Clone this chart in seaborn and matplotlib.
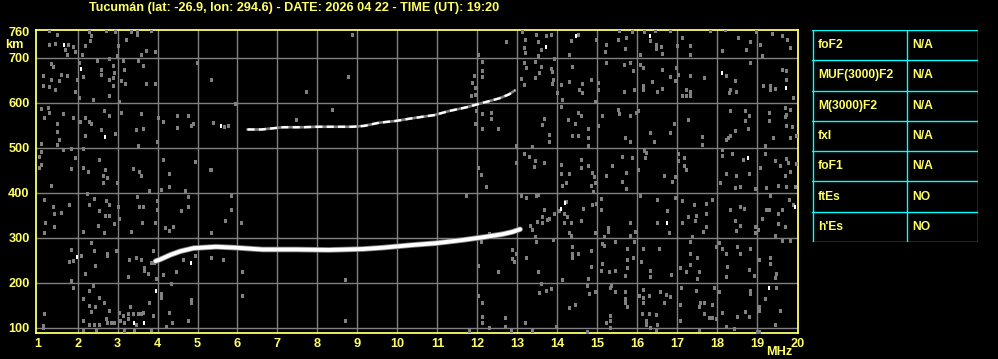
import matplotlib
matplotlib.use("Agg")
import matplotlib.pyplot as plt
import seaborn as sns
import pandas as pd

# ---------------- data ----------------
title = "Tucumán (lat: -26.9, lon: 294.6) - DATE: 2026 04 22 - TIME (UT): 19:20"
freq_ticks = list(range(1, 21))
height_ticks = [100, 200, 300, 400, 500, 600, 700, 760]
freq_grid = list(range(2, 20))
height_grid = [100, 200, 300, 400, 500, 600, 700]

lower_f = [3.95, 4.07, 4.32, 4.57, 4.9, 5.46, 5.96, 6.625, 7.46, 8.29, 9.125, 9.625,
           10.375, 10.96, 11.625, 12.2, 12.625, 12.875, 13.07]
lower_h = [248, 252, 262, 270, 277, 280, 278, 274, 274, 273, 275, 278,
           284, 288, 295, 302, 308, 313, 319]

upper_f = [6.25, 6.6, 7.14, 7.625, 8.0, 8.54, 8.875, 9.17, 9.54, 9.96, 10.375, 10.92,
           11.29, 11.71, 12.0, 12.25, 12.54, 12.79, 12.94]
upper_h = [541, 541, 546, 546, 547, 547, 547, 549, 556, 560, 566, 573,
           582, 590, 597, 603, 610, 619, 628]

noise_f = [
    # 1-5.5 MHz, upper
    1.275, 1.475, 1.29, 1.43, 1.75, 1.875, 1.68, 1.73, 1.93, 2.29, 2.33, 2.32, 2.18, 2.12, 2.72, 2.93,
    3.33, 3.48, 3.48, 3.83, 3.22, 3.02, 2.98, 3.58, 3.72, 3.93,
    1.33, 1.375, 1.125, 1.33, 1.125, 1.275, 1.43, 1.525, 1.58, 1.73, 2.025, 2.125, 1.975, 1.93, 2.025,
    2.375, 2.48, 2.58, 2.58, 2.775, 2.875, 2.9, 2.875, 2.775, 2.875, 2.775, 3.03, 3.125, 3.17, 3.08,
    3.19, 3.52, 3.625, 3.72, 3.93, 4.975, 5.325,
    1.075, 1.25, 1.29, 1.17, 1.625, 1.475, 1.475, 1.525, 1.48, 1.08, 1.875, 2.07, 2.19, 2.29, 2.33,
    2.19, 2.58, 2.67, 2.775, 2.94, 3.08, 3.46, 3.625, 3.58, 4.02, 4.125, 4.475, 4.77, 4.875, 4.83,
    4.475, 5.375, 3.975, 3.52, 5.67, 5.775,
    1.08, 1.04, 1.08, 1.04, 1.625, 1.83, 2.125, 1.93, 1.83, 2.125, 2.25, 2.54, 2.68, 2.625, 2.73,
    3.375, 3.54, 3.58, 4.125, 4.29, 4.94, 5.32,
    # 1-5.5 MHz, lower
    1.33, 2.625, 2.98, 4.08, 4.29, 4.68, 2.225, 1.17, 1.375, 1.775, 1.58, 1.42, 2.42, 2.29, 2.71,
    2.79, 2.54, 2.69, 2.79, 3.0, 3.04, 2.92, 2.5, 2.65, 2.125, 1.19, 1.17, 1.42, 3.33, 3.48, 3.54,
    3.625, 3.79, 3.98, 3.98, 3.94, 3.6, 4.19, 4.29, 4.375, 4.75, 4.75, 4.58, 5.33,
    1.83, 1.875, 1.79, 2.08, 2.33, 2.4, 2.44, 2.19, 2.73, 2.73, 2.96, 3.28, 3.46, 3.58, 3.67, 3.65,
    3.75, 3.875, 3.92, 3.83, 4.125, 3.96, 3.25, 4.625, 4.94, 5.33, 4.45,
    1.83, 1.875, 2.375, 2.29, 2.125, 2.54, 2.67, 2.29, 2.33, 2.44, 2.79, 2.71, 2.83, 3.04, 3.125,
    3.25, 3.31, 3.375, 3.5, 3.58, 3.79, 3.875, 4.08, 4.08, 4.33, 4.83, 4.83, 4.29, 4.35, 4.21, 4.75,
    1.17, 1.125, 1.125, 2.125, 2.275, 2.42, 2.54, 2.73, 2.92, 3.06, 3.17, 3.25, 3.46, 3.625, 3.17,
    3.42, 3.83, 2.125, 2.46,
    # 5-14 MHz
    8.875, 12.725, 12.025, 12.125, 12.125, 11.92, 12.125, 11.875, 11.94, 11.83, 11.94, 8.775, 7.725,
    5.33, 5.94, 8.375, 7.475, 11.96, 12.125, 12.33, 12.33, 11.94, 12.125, 12.525, 5.33, 12.025, 12.08,
    13.125, 13.475, 13.725, 13.83, 13.19, 13.52, 13.17, 13.58, 13.19, 13.52, 13.92, 13.17, 13.44,
    13.225, 13.58, 13.83, 13.875, 13.89, 13.54, 13.44, 13.1, 13.17, 14.0, 13.875, 13.67, 13.625,
    13.79, 13.79, 13.375, 12.975, 13.17, 13.29, 13.44, 13.67, 13.42, 12.975,
    5.83, 5.83, 5.69, 6.08, 5.33, 5.33, 5.625, 6.125, 6.125, 8.68, 8.68, 11.72, 12.225, 13.08, 13.225,
    13.475, 13.52, 13.67, 13.625, 13.75, 13.79, 13.92, 13.625, 13.375, 13.44, 13.46, 13.89, 12.875,
    12.875, 12.96, 12.92, 13.225, 12.025, 12.525, 13.52, 13.58, 13.54, 13.71, 13.83, 12.025, 12.125,
    12.125, 12.125, 12.29, 12.69, 12.69, 12.83, 13.19, 13.375, 13.96, 11.78, 12.1, 12.29,
    13.32, 13.5, 14.2,
    # 14-20 MHz, upper
    14.33, 14.525, 14.29, 14.975, 15.225, 15.19, 15.525, 15.54, 15.725, 15.69, 15.875, 16.08, 16.17,
    16.33, 16.46, 16.6, 16.46, 16.625, 16.44, 16.83, 17.0, 17.125, 17.33, 17.33, 17.83, 18.125, 18.19,
    18.525, 18.725, 18.83, 18.98, 19.06, 19.125, 19.375, 19.625, 19.75, 19.83,
    14.375, 14.29, 14.08, 14.125, 14.625, 14.83, 14.54, 14.625, 15.025, 15.025, 14.94, 15.225, 15.67,
    15.83, 15.9, 15.67, 15.93, 16.08, 16.14, 16.375, 16.14, 16.14, 16.5, 16.625, 16.625, 16.83, 16.94,
    16.975, 17.03, 17.11, 17.23, 17.33, 17.23, 17.33, 17.33, 17.67, 18.225, 18.45, 18.33, 18.46, 18.29,
    18.83, 19.14, 19.33, 19.33, 19.44, 19.625, 19.725, 19.725, 19.9,
    14.08, 14.275, 14.525, 14.58, 14.44, 14.775, 14.375, 14.525, 14.775, 14.775, 15.025, 15.125,
    15.525, 15.54, 15.83, 15.975, 16.03, 15.69, 15.83, 16.33, 16.43, 16.83, 16.92, 17.275, 17.625,
    17.625, 18.33, 18.69, 18.79, 18.69, 18.775, 18.44, 18.33, 18.21, 18.27, 19.29, 19.29, 19.7, 19.7,
    19.725, 19.875, 19.725, 19.83, 19.4, 19.83, 19.97, 19.19,
    14.08, 14.08, 14.29, 14.58, 14.58, 14.775, 14.875, 14.92, 15.21, 15.375, 15.625, 15.725, 15.875,
    16.17, 16.21, 16.19, 16.025, 16.67, 17.025, 17.025, 17.17, 17.17, 17.23, 16.94, 18.125, 18.125,
    18.375, 18.64, 18.79, 19.06, 19.19, 19.44, 19.56, 19.71, 19.775, 19.83, 19.97, 19.69, 18.21, 18.46,
    # 14-20 MHz, lower
    14.21, 14.125, 14.83, 14.94, 14.89, 15.625, 15.71, 16.875, 18.08, 18.44, 18.58, 18.94, 19.225,
    19.52, 19.71, 19.94,
    14.225, 14.04, 14.17, 14.25, 14.33, 14.17, 14.29, 14.33, 14.58, 14.64, 14.875, 14.96, 14.94, 15.08,
    15.08, 15.275, 15.275, 15.17, 15.83, 15.83, 15.94, 16.08, 16.5, 16.75, 16.5, 16.79, 16.94, 17.125,
    17.125, 17.42, 17.275, 17.46, 17.44, 17.71, 17.71, 17.71, 17.65, 17.375, 17.875, 18.33, 18.58,
    18.67, 18.44, 18.58, 18.46, 18.94, 18.94, 19.03, 19.125, 19.225, 19.29, 19.33, 19.625, 19.52,
    19.52, 19.69, 19.44, 19.9, 19.79,
    14.375, 14.375, 14.525, 14.375, 14.83, 14.83, 14.125, 14.775, 15.125, 15.17, 15.44, 15.125, 15.08,
    15.29, 15.44, 15.74, 15.74, 15.74, 15.69, 15.9, 15.93, 16.1, 16.15, 16.33, 16.33, 16.54, 16.85,
    17.08, 17.23, 17.33, 17.33, 17.5, 17.54, 17.5, 17.33, 17.96, 18.04, 18.125, 18.23, 18.25, 18.23,
    18.5, 18.58, 18.79, 18.83, 18.93, 19.04, 19.33, 19.33, 19.48, 19.44, 19.625, 19.83,
    14.29, 14.45, 14.74, 14.79, 14.94, 15.33, 15.44, 15.35, 15.69, 15.69, 15.74, 15.69, 15.33, 15.33,
    15.21, 15.33, 16.04, 16.15, 16.15, 16.15, 16.29, 16.125, 16.29, 16.225, 16.225, 16.31, 16.46, 16.5,
    16.475, 16.58, 16.71, 16.83, 16.67, 17.1, 17.08, 17.08, 17.475, 17.58, 17.67, 17.54, 17.875, 17.92,
    18.04, 17.79, 17.875, 17.96, 17.67, 17.54, 18.125, 18.5, 18.69, 18.83, 18.83, 18.79, 19.04, 19.04,
    19.19, 19.48, 19.58, 19.44, 19.0, 19.05, 18.23, 18.42, 14.74,
]
noise_h = [
    760, 752, 730, 732, 728, 725, 717, 707, 713, 757, 748, 737, 726, 707, 761, 757,
    757, 760, 752, 761, 740, 726, 704, 707, 715, 713,
    687, 680, 659, 652, 637, 635, 629, 648, 663, 661, 689, 657, 652, 625, 610,
    607, 693, 674, 663, 698, 683, 666, 655, 650, 638, 616, 603, 693, 674, 648,
    643, 693, 683, 643, 643, 689, 652,
    587, 588, 578, 567, 575, 553, 536, 517, 506, 508, 566, 558, 566, 558, 554,
    526, 540, 581, 571, 531, 578, 540, 542, 575, 566, 557, 571, 571, 554, 548,
    544, 556, 513, 504, 547, 549,
    491, 480, 461, 456, 496, 497, 497, 478, 454, 456, 446, 472, 450, 437, 433,
    454, 446, 437, 472, 443, 469, 450,
    416, 422, 422, 407, 413, 404, 398, 383, 368, 373, 355, 353, 387, 372, 381,
    372, 359, 349, 349, 368, 342, 331, 327, 310, 314, 332, 310, 323, 312, 390, 368,
    368, 404, 381, 361, 332, 334, 321, 316, 323, 390, 368, 359, 310,
    273, 249, 247, 260, 288, 271, 238, 219, 264, 260, 270, 251, 256, 250, 232, 226,
    219, 271, 245, 245, 217, 208, 212, 250, 260, 256, 225,
    205, 189, 193, 182, 163, 165, 156, 148, 136, 145, 137, 119, 111, 133, 126,
    130, 146, 130, 130, 130, 156, 126, 176, 165, 197, 161, 154, 133, 111, 101, 115,
    130, 104, 100, 96, 106, 106, 107, 111, 111, 115, 111, 119, 107, 133, 92,
    96, 96, 115, 96,
    752, 735, 707, 692, 670, 660, 657, 644, 633, 616, 618, 657, 625,
    652, 598, 584, 562, 581, 576, 578, 564, 553, 541, 541, 450, 456, 439,
    757, 752, 748, 752, 740, 735, 722, 717, 711, 704, 698, 689, 690,
    678, 680, 675, 668, 651, 666, 655, 653, 640, 622, 643, 564, 551,
    528, 513, 502, 504, 487, 480, 470, 466, 457, 466,
    394, 362, 337, 334, 310, 256, 251, 225, 171, 206, 115, 392, 413, 394, 389,
    394, 396, 361, 347, 340, 342, 353, 332, 317, 301, 290, 295, 273,
    253, 265, 247, 256, 238, 225, 223, 197, 178, 182, 186, 171, 154,
    124, 111, 100, 121, 101, 92, 111, 92, 101, 92, 290, 308,
    326, 336, 380,
    737, 752, 707, 741, 730, 713, 741, 761, 744, 719, 757, 707, 757,
    737, 730, 725, 719, 710, 760, 761, 726, 745, 726, 707, 760, 715, 762,
    745, 717, 735, 757, 730, 705, 754, 748, 741, 722,
    681, 646, 640, 607, 643, 651, 629, 623, 644, 629, 603, 689, 685,
    689, 670, 625, 629, 685, 677, 646, 638, 629, 625, 631, 674, 657, 648,
    677, 663, 616, 629, 625, 616, 616, 660, 655, 660, 648, 629, 625, 622,
    689, 638, 637, 628, 631, 674, 672, 651, 610,
    590, 562, 578, 571, 553, 543, 526, 526, 521, 504, 549, 571,
    584, 575, 571, 577, 581, 522, 513, 534, 513, 534, 553, 562, 525,
    506, 583, 581, 571, 559, 543, 538, 526, 517, 521, 578, 559, 588, 568,
    573, 547, 549, 584, 521, 521, 526, 504,
    461, 443, 441, 472, 456, 459, 444, 435, 437, 459, 480, 444, 478,
    493, 489, 478, 450, 437, 487, 471, 478, 459, 450, 435, 495, 482,
    486, 474, 443, 456, 487, 471, 459, 476, 466, 446, 464, 437, 443, 437,
    422, 416, 416, 422, 401, 424, 409, 424, 422, 411, 414, 409, 411,
    416, 413, 413,
    379, 359, 353, 346, 332, 332, 310, 305, 337, 364, 372, 375, 310, 387,
    361, 322, 314, 301, 334, 305, 314, 394, 384, 359, 332, 310, 389, 381,
    332, 374, 346, 349, 338, 375, 353, 323, 312, 301, 384, 361, 368,
    364, 338, 327, 316, 325, 310, 317, 342, 361, 361, 394, 362, 353,
    331, 323, 305, 372, 384,
    279, 265, 265, 255, 270, 234, 206, 208, 286, 282, 290, 241, 226,
    223, 226, 275, 250, 232, 215, 256, 290, 247, 275, 226, 212, 275, 218,
    232, 225, 290, 265, 256, 225, 208, 240, 279, 288, 275, 265, 234, 212,
    279, 265, 228, 275, 215, 250, 256, 241, 219, 210, 293, 292,
    143, 151, 193, 174, 180, 189, 180, 193, 180, 163, 146, 154, 126, 115,
    111, 100, 171, 183, 167, 156, 171, 131, 131, 115, 106, 100, 96, 106,
    128, 180, 173, 168, 156, 189, 151, 115, 182, 154, 154, 145, 151, 189,
    180, 121, 122, 119, 130, 94, 133, 124, 136, 182, 174, 124, 145, 138,
    163, 189, 138, 106, 90, 90, 101, 98, 90,
]

bright_f = [1.67, 2.08, 2.69, 1.985, 4.84, 3.96, 3.42, 3.67, 5.58, 13.725,
            14.475, 16.33, 18.125, 19.725, 18.775, 14.19, 14.08, 16.75, 19.94, 19.29]
bright_h = [730, 675, 525, 258, 244, 182, 111, 111, 549, 725,
            748, 748, 666, 634, 478, 377, 364, 332, 368, 189]

param_names = ["foF2", "MUF(3000)F2", "M(3000)F2", "fxI", "foF1", "ftEs", "h'Es"]
param_values = ["N/A", "N/A", "N/A", "N/A", "N/A", "NO", "NO"]

# ---------------- style ----------------
YEL = "#ffff66"
GRAY = "#808080"
CYAN = "#00ffff"
FONT = ["Liberation Sans", "DejaVu Sans"]
sns.set_theme(style="dark")
plt.rcParams['font.family'] = FONT
plt.rcParams['font.weight'] = 'bold'

W, H = 998, 359
fig = plt.figure(figsize=(W / 100, H / 100), dpi=100, facecolor="black")
ax = fig.add_axes([36 / W, 1 - 332.7 / H, (798 - 36) / W, (332.7 - 29.5) / H])
ax.set_facecolor("black")

# grid lines
for fv in freq_grid:
    ax.axvline(fv, color=GRAY, linewidth=1.0, zorder=1)
for hv in height_grid:
    ax.axhline(hv, color=GRAY, linewidth=1.0, zorder=1)

noise_df = pd.DataFrame({"f": noise_f, "h": noise_h})
bright_df = pd.DataFrame({"f": bright_f, "h": bright_h})
low_df = pd.DataFrame({"f": lower_f, "h": lower_h})
up_df = pd.DataFrame({"f": upper_f, "h": upper_h})

rect = [(-0.36, -0.5), (0.36, -0.5), (0.36, 0.5), (-0.36, 0.5)]
sns.scatterplot(data=noise_df, x="f", y="h", ax=ax, marker=rect, s=9, color=GRAY,
                linewidth=0, zorder=3)
sns.lineplot(data=low_df, x="f", y="h", ax=ax, color=GRAY, linewidth=4.0, sort=False,
             zorder=4)
sns.lineplot(data=low_df, x="f", y="h", ax=ax, color="white", linewidth=2.8, sort=False,
             zorder=5)
sns.lineplot(data=up_df, x="f", y="h", ax=ax, color=GRAY, linewidth=1.9, sort=False,
             zorder=4)
sns.lineplot(data=up_df, x="f", y="h", ax=ax, color="white", linewidth=1.7, sort=False,
             zorder=5)
ax.lines[-1].set_dashes([3, 1.8])
sns.scatterplot(data=bright_df, x="f", y="h", ax=ax, marker=rect, s=8, color="white",
                linewidth=0, zorder=6)

ax.set_xlim(0.96, 20.02)
ax.set_ylim(88.9, 763.4)
ax.set_xticks(freq_ticks)
ax.set_yticks(height_ticks)
ax.set_xticklabels([str(v) for v in freq_ticks])
ax.set_yticklabels([str(v) for v in height_ticks])
ax.set_xlabel("")
ax.set_ylabel("")
ax.grid(False)
ax.tick_params(axis="both", length=0, colors=YEL, labelsize=9.2)
ax.tick_params(axis="x", pad=4)
ax.tick_params(axis="y", pad=4.5)
for lab in ax.get_xticklabels() + ax.get_yticklabels():
    lab.set_fontweight("bold")
for sp in ax.spines.values():
    sp.set_visible(True)
    sp.set_color(YEL)
    sp.set_linewidth(1.3)

ttl = fig.text(294 / W, 1 - 7.5 / H, title, color=YEL, fontsize=8.6, fontweight="bold",
               ha="center", va="center")
fig.canvas.draw()
tw = ttl.get_window_extent().width
ttl.set_fontsize(8.6 * 408.0 / tw)

fig.text(5 / W, 1 - 45 / H, "km", color=YEL, fontsize=9.2, fontweight="bold",
         ha="left", va="center")
fig.text(779 / W, 1 - 352 / H, "MHz", color=YEL, fontsize=9.2, fontweight="bold",
         ha="center", va="center")

# parameter table
tx0, tx1, ty0, ty1 = 812, 978, 30, 242
tab = fig.add_axes([tx0 / W, 1 - ty1 / H, (tx1 - tx0) / W, (ty1 - ty0) / H])
tab.set_facecolor("black")
tab.set_xlim(0, tx1 - tx0)
tab.set_ylim(ty1 - ty0, 0)
tab.axis("off")
n = len(param_names)
rh = (ty1 - ty0) / n
for i in range(n + 1):
    tab.axhline(i * rh, color=CYAN, linewidth=1.0)
tab.axvline(0.5, color=CYAN, linewidth=1.0)
tab.axvline(tx1 - tx0 - 0.5, color=CYAN, linewidth=1.0)
tab.axvline(95, color=CYAN, linewidth=1.0)
for i, (nm, vl) in enumerate(zip(param_names, param_values)):
    yc = (i + 0.5) * rh
    tab.text(6, yc, nm, color=YEL, fontsize=8.7, fontweight="bold", ha="left", va="center")
    tab.text(100, yc, vl, color=YEL, fontsize=8.7, fontweight="bold", ha="left", va="center")

fig.savefig("out.png", dpi=100, facecolor="black")
